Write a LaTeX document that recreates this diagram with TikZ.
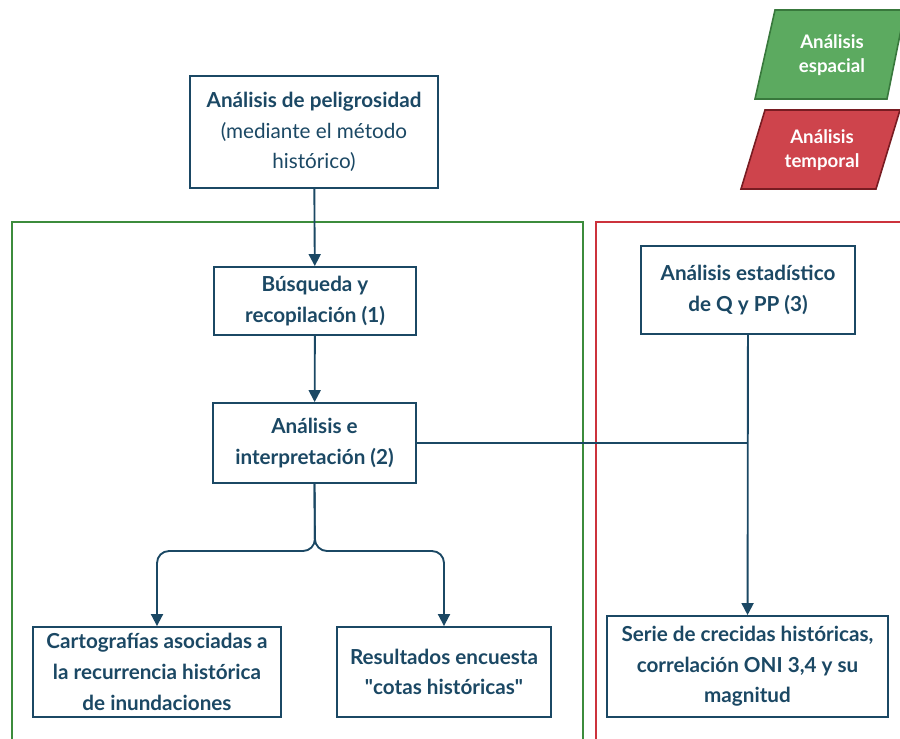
\documentclass[tikz,border=0pt]{standalone}
\usepackage{fontspec}
\setmainfont{Lato}
\usepackage{tikz}
\usetikzlibrary{arrows.meta}
\definecolor{navy}{RGB}{27, 72, 100}
\definecolor{framegreen}{RGB}{60, 140, 60}
\definecolor{framered}{RGB}{204, 50, 60}
\definecolor{fillgreen}{RGB}{92, 170, 96}
\definecolor{edgegreen}{RGB}{56, 120, 60}
\definecolor{fillred}{RGB}{206, 68, 76}
\definecolor{edgered}{RGB}{120, 28, 34}
\tikzset{every picture/.style={line width=0.75pt}}
\tikzset{
  box/.style={draw=navy, line width=1.4pt, fill=white, text=navy, align=center,
    inner sep=2pt, font=\fontsize{15.5}{23}\selectfont},
  flow/.style={draw=navy, line width=1.4pt, -{Triangle[width=9pt,length=9pt]}},
  link/.style={draw=navy, line width=1.4pt},
  tag/.style={line width=1.2pt},
  tagtext/.style={text=white, align=center, font=\fontsize{14}{18}\selectfont\bfseries}
}

\begin{document}
\begin{tikzpicture}[x=0.75pt,y=0.75pt,yscale=-1,xscale=1]
\useasboundingbox (0,0) rectangle (900,739);
\clip (0,0) rectangle (900,739);

%Shape: Frame spatial
\draw [framegreen, line width=1.4pt] (12,745) -- (12,222) -- (583,222) -- (583,745) ;
%Shape: Frame temporal
\draw [framered, line width=1.4pt] (596,745) -- (596,222) -- (905,222) ;

%Shape: Parallelogram spatial
\draw [tag, draw=edgegreen, fill=fillgreen] (775,10) -- (905,10) -- (887,99) -- (755,99) -- cycle ;
\draw (832,55) node [tagtext] {Análisis\\espacial};
%Shape: Parallelogram temporal
\draw [tag, draw=edgered, fill=fillred] (765,110) -- (900,110) -- (876,189) -- (741,189) -- cycle ;
\draw (822,150) node [tagtext] {Análisis\\temporal};

% Text Node
\draw (314,132) node (peligro) [box, minimum width=186pt, minimum height=84pt] {\textbf{Análisis de peligrosidad}\\(mediante el método\\histórico)};
% Text Node
\draw (315,301) node (busqueda) [box, minimum width=151.5pt, minimum height=51pt] {\textbf{Búsqueda y}\\\textbf{recopilación (1)}};
% Text Node
\draw (314.5,443) node (interp) [box, minimum width=152.25pt, minimum height=60pt] {\textbf{Análisis e}\\\textbf{interpretación (2)}};
% Text Node
\draw (748,290) node (estad) [box, minimum width=160.5pt, minimum height=66pt] {\textbf{Análisis estadístico}\\\textbf{de Q y PP (3)}};
% Text Node
\draw (157,672) node (carto) [box, minimum width=186pt, minimum height=67.5pt] {\textbf{Cartografías asociadas a}\\\textbf{la recurrencia histórica}\\\textbf{de inundaciones}};
% Text Node
\draw (444,672) node (encuesta) [box, minimum width=160.5pt, minimum height=67.5pt] {\textbf{Resultados encuesta}\\\textbf{\textquotedbl cotas históricas\textquotedbl}};
% Text Node
\draw (747.5,666.5) node (serie) [box, minimum width=210.75pt, minimum height=75.75pt] {\textbf{Serie de crecidas históricas,}\\\textbf{correlación ONI 3,4 y su}\\\textbf{magnitud}};

\coordinate (split) at (315,551);

%Connectors
\draw [flow] (peligro) -- (busqueda) ;
\draw [flow] (busqueda) -- (interp) ;
\draw [flow, rounded corners=9pt] (interp.south) -- (split) -| (carto.north) ;
\draw [flow, rounded corners=9pt] (interp.south) -- (split) -| (encuesta.north) ;
\draw [link] (interp.east) -- (interp.east -| estad.south) ;
\draw [flow] (estad) -- (serie) ;

\end{tikzpicture}
\end{document}
